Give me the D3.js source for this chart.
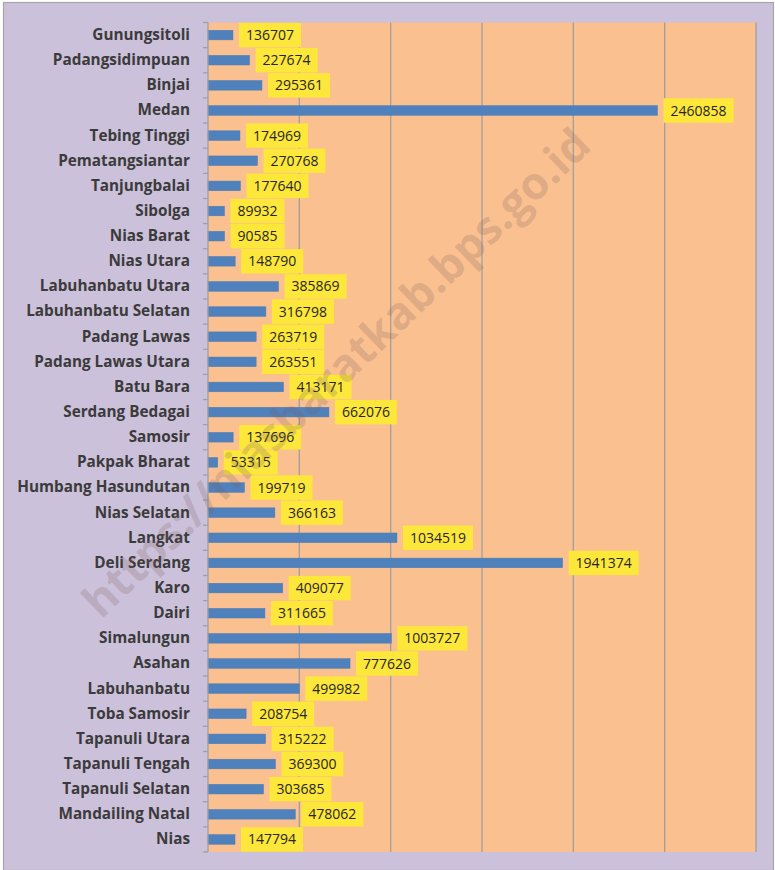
<!DOCTYPE html>
<html>
<head>
<meta charset="utf-8">
<script src="https://cdn.jsdelivr.net/npm/d3@7"></script>
<style>
html,body{margin:0;padding:0;background:#ffffff;}
svg{display:block;}
</style>
</head>
<body>
<svg id="chart" width="775" height="870"></svg>
<script>
const regions = ["Gunungsitoli","Padangsidimpuan","Binjai","Medan","Tebing Tinggi","Pematangsiantar","Tanjungbalai","Sibolga","Nias Barat","Nias Utara","Labuhanbatu Utara","Labuhanbatu Selatan","Padang Lawas","Padang Lawas Utara","Batu Bara","Serdang Bedagai","Samosir","Pakpak Bharat","Humbang Hasundutan","Nias Selatan","Langkat","Deli Serdang","Karo","Dairi","Simalungun","Asahan","Labuhanbatu","Toba Samosir","Tapanuli Utara","Tapanuli Tengah","Tapanuli Selatan","Mandailing Natal","Nias"];
const population = [136707,227674,295361,2460858,174969,270768,177640,89932,90585,148790,385869,316798,263719,263551,413171,662076,137696,53315,199719,366163,1034519,1941374,409077,311665,1003727,777626,499982,208754,315222,369300,303685,478062,147794];
const xTicks = [0,500000,1000000,1500000,2000000,2500000,3000000];
const watermark = "https://niasbaratkab.bps.go.id";

const svg = d3.select("#chart");
const W = 775, H = 870;
const plot = {left:208, right:756, top:22.5, bottom:852};

// outer background
svg.append("rect").attr("x",3.5).attr("y",2.5).attr("width",W-5).attr("height",H-2)
  .attr("fill","#ccc1da").attr("stroke","#a6a6a6").attr("stroke-width",1.2);

const x = d3.scaleLinear().domain([0,3000000]).range([plot.left, plot.right]);
const yb = d3.scaleBand().domain(regions).range([plot.top, plot.bottom]).padding(0);

// plot area
svg.append("rect").attr("x",plot.left).attr("y",plot.top)
  .attr("width",plot.right-plot.left).attr("height",plot.bottom-plot.top).attr("fill","#fac090");

// gridlines
svg.append("g").selectAll("line").data(xTicks.slice(1)).join("line")
  .attr("x1",d=>x(d)).attr("x2",d=>x(d)).attr("y1",plot.top).attr("y2",plot.bottom)
  .attr("stroke","#a0a0a0").attr("stroke-width",1.3);

// bars
svg.append("g").selectAll("rect").data(regions).join("rect")
  .attr("x",plot.left).attr("y",d=>yb(d)+yb.bandwidth()/2-4.8)
  .attr("width",(d,i)=>x(population[i])-x(0)).attr("height",9.6)
  .attr("fill","#4f81bd").attr("stroke","#4a7ab3").attr("stroke-width",0.5);

// labels
const lg = svg.append("g");
regions.forEach((r,i)=>{
  const g = lg.append("g");
  const cx = x(population[i]) + 6;
  const cy = yb(r)+yb.bandwidth()/2;
  const rect = g.append("rect").attr("fill","#fde73a");
  const t = g.append("text").attr("x",cx+7).attr("y",cy).attr("dy","0.36em")
    .attr("font-family","'Open Sans', 'Noto Sans', sans-serif").attr("font-size",14)
    .attr("fill","#262626").text(population[i]);
  const w = t.node().getComputedTextLength();
  rect.attr("x",cx).attr("y",cy-12.2).attr("width",w+14).attr("height",24.4);
});

// left axis
const axis = d3.axisLeft(yb).tickSize(0).tickPadding(18);
const ag = svg.append("g").attr("transform",`translate(${plot.left},0)`).call(axis);
ag.select(".domain").remove();
ag.selectAll("text").attr("font-family","'Open Sans', 'Noto Sans', sans-serif")
  .attr("font-size",15.3).attr("font-weight","bold").attr("fill","#3b3b3b");
// tick marks at band boundaries
const bounds = regions.map(r=>yb(r)).concat([plot.bottom]);
svg.append("g").selectAll("line").data(bounds).join("line")
  .attr("x1",plot.left-5).attr("x2",plot.left).attr("y1",d=>d).attr("y2",d=>d)
  .attr("stroke","#a0a0a0").attr("stroke-width",1.3);
svg.append("line").attr("x1",plot.left).attr("x2",plot.left).attr("y1",plot.top).attr("y2",plot.bottom)
  .attr("stroke","#a0a0a0").attr("stroke-width",1.3);

// watermark
svg.append("text").attr("transform","translate(101,620) rotate(-43.8)")
  .attr("font-family","'Open Sans', 'Noto Sans', sans-serif").attr("font-weight","bold")
  .attr("font-size",45).attr("fill","#7a6060").attr("fill-opacity",0.22).text(watermark);
</script>
</body>
</html>
